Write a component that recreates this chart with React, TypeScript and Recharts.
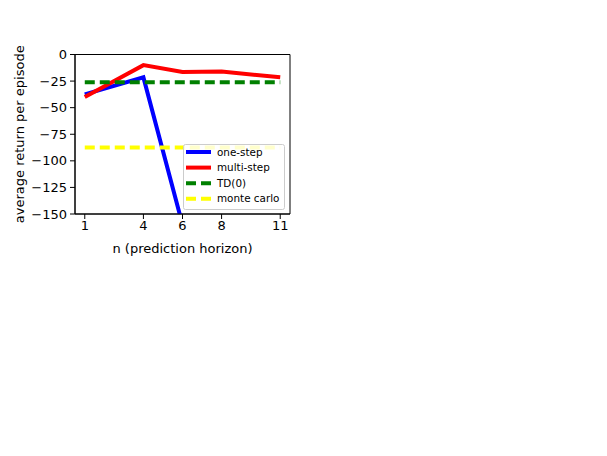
import React from "react";
import { LineChart, Line, XAxis, YAxis, ReferenceArea } from "recharts";

const horizons = [1, 4, 6, 8, 11];
const oneStep = [-37.5, -21.5, -160, -300, -400];
const multiStep = [-40, -10, -16.5, -16, -21.5];
const td0 = [-26, -26, -26, -26, -26];
const monteCarlo = [-87.5, -87.5, -87.5, -87.5, -87.5];
const xTicks = [1, 4, 6, 8, 11];
const yTicks = [0, -25, -50, -75, -100, -125, -150];

const data = horizons.map((n, i) => ({
  n,
  oneStep: oneStep[i],
  multiStep: multiStep[i],
  td0: td0[i],
  mc: monteCarlo[i],
}));

const legendItems = [
  { name: "one-step", color: "#0000ff", dash: undefined },
  { name: "multi-step", color: "#ff0000", dash: undefined },
  { name: "TD(0)", color: "#008000", dash: "10 5" },
  { name: "monte carlo", color: "#ffff00", dash: "10 5" },
];

const FONT = "DejaVu Sans, sans-serif";

const LegendBox = () => (
  <svg width={102} height={66} style={{ display: "block" }}>
    <rect x={0.5} y={0.5} width={101} height={65} rx={2} fill="#ffffff" fillOpacity={0.8} stroke="#cccccc" />
    {legendItems.map((it, i) => (
      <g key={it.name}>
        <line x1={3} x2={28} y1={8 + i * 15.6} y2={8 + i * 15.6} stroke={it.color} strokeWidth={4} strokeDasharray={it.dash} />
        <text x={34} y={8 + i * 15.6} dy="0.35em" fontSize={10.4} fontFamily={FONT} fill="#000">{it.name}</text>
      </g>
    ))}
  </svg>
);

export default function App() {
  return (
    <div style={{ width: 599, height: 448, position: "relative" }}>
      <LineChart width={599} height={448} data={data} margin={{ top: 46.5, left: 7, right: 317, bottom: 212 }}>
        <XAxis
          dataKey="n"
          type="number"
          domain={[0.5, 11.5]}
          ticks={xTicks}
          interval={0}
          allowDataOverflow
          height={30}
          tickSize={5}
          tickMargin={2}
          tick={{ fill: "#000", fontSize: 13, fontFamily: FONT }}
          stroke="#000"
          tickLine={{ stroke: "#000" }}
          label={(p: any) => {
            const vb = p.viewBox;
            return (
              <text x={vb.x + vb.width / 2} y={vb.y + 39} textAnchor="middle" fontSize={13} fontFamily={FONT} fill="#000">
                n (prediction horizon)
              </text>
            );
          }}
        />
        <YAxis
          type="number"
          domain={[-150, 0]}
          ticks={yTicks}
          interval={0}
          allowDataOverflow
          width={60}
          tickSize={5}
          tickMargin={3}
          tick={{ fill: "#000", fontSize: 13, fontFamily: FONT }}
          tickFormatter={(v: number) => (v < 0 ? "\u2212" + Math.abs(v) : String(v))}
          stroke="#000"
          tickLine={{ stroke: "#000" }}
          label={(p: any) => {
            const vb = p.viewBox;
            const x = vb.x + 4;
            const y = vb.y + vb.height / 2;
            return (
              <text x={x} y={y} transform={`rotate(-90 ${x} ${y})`} textAnchor="middle" dy="0.35em" fontSize={13} fontFamily={FONT} fill="#000">
                average return per episode
              </text>
            );
          }}
        />
        <ReferenceArea x1={0.5} x2={11.5} y1={-150} y2={0} fill="none" stroke="#000" strokeWidth={1} ifOverflow="visible" />
        <Line dataKey="oneStep" stroke="#0000ff" strokeWidth={4} dot={false} isAnimationActive={false} />
        <Line dataKey="multiStep" stroke="#ff0000" strokeWidth={4} dot={false} isAnimationActive={false} />
        <Line dataKey="td0" stroke="#008000" strokeWidth={4} strokeDasharray="10 5" dot={false} isAnimationActive={false} />
        <Line dataKey="mc" stroke="#ffff00" strokeWidth={4} strokeDasharray="10 5" dot={false} isAnimationActive={false} />
      </LineChart>
      <div style={{ position: "absolute", left: 175, top: 136 }}>
        <LegendBox />
      </div>
    </div>
  );
}
